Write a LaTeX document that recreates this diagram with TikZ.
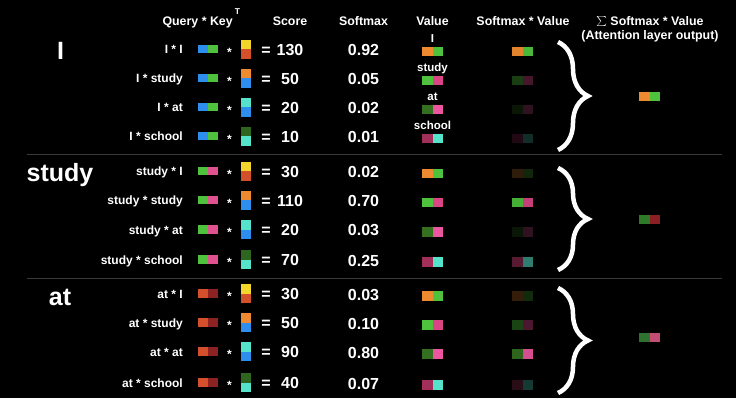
\documentclass[tikz,border=0pt]{standalone}
\usepackage{fontspec}
\setmainfont{Liberation Sans}
\usetikzlibrary{decorations.pathreplacing}
\definecolor{cblue}{HTML}{2E8EEE}
\definecolor{cgreen}{HTML}{4EC23C}
\definecolor{cyellow}{HTML}{F3D62C}
\definecolor{cred}{HTML}{D4502A}
\definecolor{corange}{HTML}{EE8A30}
\definecolor{ccyan}{HTML}{55E3CB}
\definecolor{cdkgreen}{HTML}{2F661F}
\definecolor{cvgreen}{HTML}{33701F}
\definecolor{cpink}{HTML}{DA4585}
\definecolor{cpinkb}{HTML}{EC56A0}
\definecolor{cqpink}{HTML}{E0528F}
\definecolor{cmaroon}{HTML}{A12F5A}
\definecolor{catA}{HTML}{D4502C}
\definecolor{catB}{HTML}{8C2222}
\definecolor{coutAL}{HTML}{2E7A28}
\definecolor{coutAR}{HTML}{8A1F24}
\definecolor{coutBL}{HTML}{2F7230}
\definecolor{coutBR}{HTML}{C24E74}
\definecolor{csep}{HTML}{3A3A3A}
\tikzset{
  txt/.style={text=white, inner sep=0pt, anchor=base},
  hdr/.style={txt, font=\fontsize{12.4}{14}\selectfont\bfseries},
  rowlbl/.style={txt, font=\fontsize{12}{14}\selectfont\bfseries, anchor=base east},
  vlbl/.style={txt, font=\fontsize{11.5}{13}\selectfont\bfseries},
  num/.style={txt, font=\fontsize{16}{18}\selectfont\bfseries},
  star/.style={txt, font=\fontsize{12}{14}\selectfont\bfseries},
  big/.style={txt, font=\fontsize{25}{28}\selectfont\bfseries},
  bracestyle/.style={white, line width=4.5pt, decorate, decoration={brace, amplitude=30pt, aspect=0.5}},
  sepline/.style={csep, line width=1.2pt},
}
% name, y, label, q1, q2, k1, k2, score, softmax
\newcommand\AttRow[9]{%
  \node[rowlbl] (#1-l) at (183,#2+4) {#3};
  \fill[#4] (198,#2-5) rectangle (208,#2+3.5);
  \fill[#5] (208,#2-5) rectangle (218,#2+3.5);
  \node[star] (#1-st) at (229.5,#2+6.8) {*};
  \fill[#6] (241,#2-10) rectangle (251,#2-0.5);
  \fill[#7] (241,#2-0.5) rectangle (251,#2+9);
  \node[num] (#1-eq) at (266,#2+5.5) {=};
  \node[num] (#1-sc) at (290,#2+5.5) {#8};
  \node[num] (#1-sm) at (363.5,#2+6) {#9};
}
% y, vL, vR, percent
\newcommand\AttVal[4]{%
  \fill[#2] (422,#1-4) rectangle (432.5,#1+5.5);
  \fill[#3] (432.5,#1-4) rectangle (443,#1+5.5);
  \fill[#2!#4!black] (512,#1-4) rectangle (522.5,#1+5.5);
  \fill[#3!#4!black] (522.5,#1-4) rectangle (533,#1+5.5);
}
\newcommand\AttOut[3]{%
  \fill[#2] (639,#1-4.5) rectangle (649.5,#1+4.5);
  \fill[#3] (649.5,#1-4.5) rectangle (660,#1+4.5);
}
\begin{document}
\begin{tikzpicture}[x=1pt,y=-1pt]
\fill[black] (0,0) rectangle (736,398);
\useasboundingbox (0,0) rectangle (736,398);
% headers
\node[hdr, anchor=base east] (hq) at (233,26) {Query * Key};
\node[txt, font=\fontsize{8.5}{10}\selectfont\bfseries] (ht) at (237.5,15) {T};
\node[hdr] (hs) at (290,26) {Score};
\node[hdr] (hsm) at (363.5,26) {Softmax};
\node[hdr] (hv) at (432.5,26) {Value};
\node[hdr] (hsv) at (523,26) {Softmax * Value};
\node[hdr] (hsum) at (650,26) {{\fontsize{16}{16}\selectfont$\sum$} Softmax * Value};
\node[hdr] (hout) at (650,40) {(Attention layer output)};
% big labels
\node[big] (bI) at (60.5,60) {I};
\node[big] (bstudy) at (60,182) {study};
\node[big] (bat) at (60,305) {at};
% separators
\draw[sepline] (27,154.5) -- (722,154.5);
\draw[sepline] (27,278.5) -- (722,278.5);
% section 1
\AttRow{r11}{50}{I * I}{cblue}{cgreen}{cyellow}{cred}{130}{0.92}
\AttRow{r12}{79}{I * study}{cblue}{cgreen}{corange}{cblue}{50}{0.05}
\AttRow{r13}{108}{I * at}{cblue}{cgreen}{ccyan}{cblue}{20}{0.02}
\AttRow{r14}{137}{I * school}{cblue}{cgreen}{cdkgreen}{ccyan}{10}{0.01}
\node[vlbl] (v1) at (432.5,43) {I};
\node[vlbl] (v2) at (432.5,72) {study};
\node[vlbl] (v3) at (432.5,101) {at};
\node[vlbl] (v4) at (432.5,130) {school};
\AttVal{51}{corange}{cgreen}{95}
\AttVal{80}{cgreen}{cpink}{32}
\AttVal{109}{cvgreen}{cpinkb}{20}
\AttVal{138}{cmaroon}{ccyan}{20}
\draw[bracestyle] (558,42) -- (558,150);
\AttOut{96.5}{corange}{cgreen}
% section 2
\AttRow{r21}{172}{study * I}{cgreen}{cqpink}{cyellow}{cred}{30}{0.02}
\AttRow{r22}{201}{study * study}{cgreen}{cqpink}{corange}{cblue}{110}{0.70}
\AttRow{r23}{230}{study * at}{cgreen}{cqpink}{ccyan}{cblue}{20}{0.03}
\AttRow{r24}{260}{study * school}{cgreen}{cqpink}{cdkgreen}{ccyan}{70}{0.25}
\AttVal{173}{corange}{cgreen}{20}
\AttVal{202}{cgreen}{cpink}{90}
\AttVal{231}{cvgreen}{cpinkb}{20}
\AttVal{261}{cmaroon}{ccyan}{55}
\draw[bracestyle] (558,168) -- (558,270);
\AttOut{219.5}{coutAL}{coutAR}
% section 3
\AttRow{r31}{294}{at * I}{catA}{catB}{cyellow}{cred}{30}{0.03}
\AttRow{r32}{323}{at * study}{catA}{catB}{corange}{cblue}{50}{0.10}
\AttRow{r33}{352}{at * at}{catA}{catB}{ccyan}{cblue}{90}{0.80}
\AttRow{r34}{383}{at * school}{catA}{catB}{cdkgreen}{ccyan}{40}{0.07}
\AttVal{295}{corange}{cgreen}{22}
\AttVal{324}{cgreen}{cpink}{35}
\AttVal{353}{cvgreen}{cpinkb}{90}
\AttVal{384}{cmaroon}{ccyan}{25}
\draw[bracestyle] (558,288) -- (558,393);
\AttOut{337}{coutBL}{coutBR}
\end{tikzpicture}
\end{document}
